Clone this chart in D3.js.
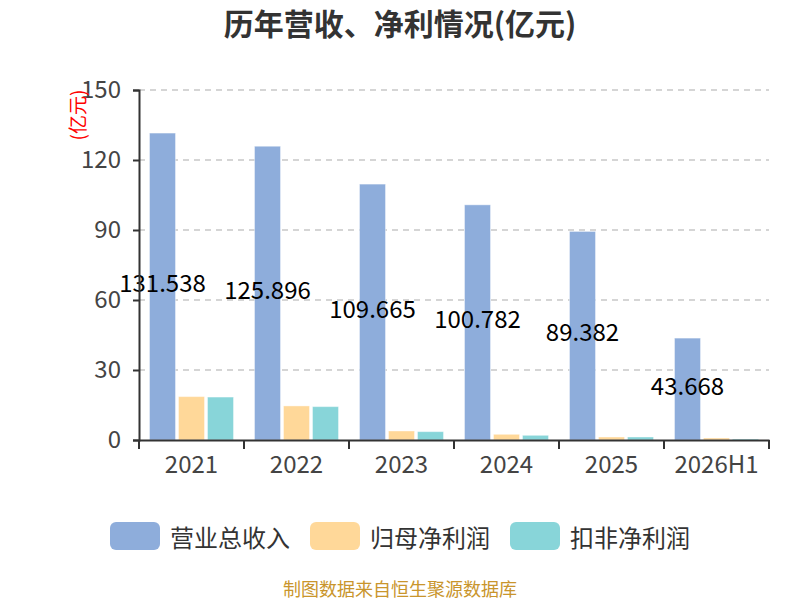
<!DOCTYPE html>
<html>
<head>
<meta charset="utf-8">
<script src="https://cdn.jsdelivr.net/npm/d3@7"></script>
<style>
  body { margin: 0; background: #fff; }
  svg text { font-family: "Noto Sans CJK SC", "Noto Sans", sans-serif; }
</style>
</head>
<body>
<div id="chart"></div>
<script>
// Data
var years = ["2021", "2022", "2023", "2024", "2025", "2026H1"];
var seriesNames = ["营业总收入", "归母净利润", "扣非净利润"];
var revenue = [131.538, 125.896, 109.665, 100.782, 89.382, 43.668];
var netProfit = [18.6, 14.6, 3.86, 2.43, 1.29, 0.86];
var deductedProfit = [18.4, 14.3, 3.57, 2.0, 1.29, 0.43];
var yTicks = [0, 30, 60, 90, 120, 150];

var colors = ["#8eaddb", "#ffd899", "#88d5d9"];

var width = 800,
  height = 600;
var margin = { top: 90, right: 31, bottom: 160, left: 139 };
var innerW = width - margin.left - margin.right,
  innerH = height - margin.top - margin.bottom;

var svg = d3
  .select("#chart")
  .append("svg")
  .attr("width", width)
  .attr("height", height);

// Title
svg
  .append("text")
  .attr("x", width / 2)
  .attr("y", 22)
  .attr("text-anchor", "middle")
  .attr("dominant-baseline", "central")
  .attr("font-size", 30)
  .attr("font-weight", "bold")
  .attr("fill", "#333")
  .text("历年营收、净利情况(亿元)");

var g = svg
  .append("g")
  .attr("transform", "translate(" + margin.left + "," + margin.top + ")");

var x0 = d3.scaleBand().domain(years).range([0, innerW]);
var y = d3.scaleLinear().domain([0, 150]).range([innerH, 0]);

// Grid lines
g.append("g")
  .selectAll("line")
  .data(yTicks.filter((d) => d > 0))
  .join("line")
  .attr("x1", 0)
  .attr("x2", innerW)
  .attr("y1", (d) => y(d))
  .attr("y2", (d) => y(d))
  .attr("stroke", "#c8c8c8")
  .attr("stroke-width", 1.3)
  .attr("stroke-dasharray", "6,5");

// Bars
var table = years.map((yr, i) => ({
  year: yr,
  values: [revenue[i], netProfit[i], deductedProfit[i]],
}));

var barW = 26,
  barGap = 3;
var x1 = d3
  .scaleLinear()
  .domain([0, 2])
  .range([0, 2 * (barW + barGap)]);
var groupOffset = (x0.bandwidth() - (3 * barW + 2 * barGap)) / 2;

var groups = g
  .append("g")
  .selectAll("g")
  .data(table)
  .join("g")
  .attr("transform", (d) => "translate(" + (x0(d.year) + groupOffset) + ",0)");

groups
  .selectAll("rect")
  .data((d) => d.values.map((v, k) => ({ v: v, k: k })))
  .join("rect")
  .attr("x", (d) => x1(d.k))
  .attr("y", (d) => y(d.v))
  .attr("width", barW)
  .attr("height", (d) => innerH - y(d.v))
  .attr("fill", (d) => colors[d.k])
  .attr("stroke", "#ffffff")
  .attr("stroke-opacity", 0.4)
  .attr("stroke-width", 1);

// Value labels on revenue bars
groups
  .append("text")
  .attr("x", barW / 2)
  .attr("y", (d) => (y(d.values[0]) + innerH) / 2 - 5)
  .attr("text-anchor", "middle")
  .attr("dominant-baseline", "central")
  .attr("font-size", 24)
  .attr("fill", "#000")
  .text((d) => d.values[0]);

// Y axis
var yAxis = g
  .append("g")
  .call(d3.axisLeft(y).tickValues(yTicks).tickSize(6).tickPadding(12));
yAxis.select(".domain").attr("stroke", "#333").attr("stroke-width", 2);
yAxis.selectAll(".tick line").attr("stroke", "#333").attr("stroke-width", 2);
yAxis
  .selectAll(".tick text")
  .attr("font-size", 24)
  .attr("fill", "#444")
  .style("font-family", '"Noto Sans CJK SC", sans-serif');

// X axis
var xAxis = g
  .append("g")
  .attr("transform", "translate(0," + innerH + ")")
  .call(d3.axisBottom(x0).tickSize(0).tickPadding(16).tickSizeOuter(0));
xAxis.select(".domain").attr("stroke", "#333").attr("stroke-width", 2);
xAxis
  .selectAll(".tick text")
  .attr("font-size", 24)
  .attr("fill", "#444")
  .style("font-family", '"Noto Sans CJK SC", sans-serif');

// Category boundary ticks
xAxis
  .append("g")
  .selectAll("line")
  .data(years.concat(["end"]))
  .join("line")
  .attr("x1", (d, i) => i * x0.bandwidth())
  .attr("x2", (d, i) => i * x0.bandwidth())
  .attr("y1", 0)
  .attr("y2", 9)
  .attr("stroke", "#333")
  .attr("stroke-width", 2);

// Unit label
svg
  .append("text")
  .attr("transform", "translate(76,115) rotate(-90)")
  .attr("text-anchor", "middle")
  .attr("dominant-baseline", "central")
  .attr("font-size", 19)
  .attr("fill", "#ff0000")
  .text("(亿元)");

// Legend
var legend = svg
  .append("g")
  .selectAll("g")
  .data(seriesNames)
  .join("g")
  .attr("transform", (d, i) => "translate(" + (110 + i * 200) + ",522)");

legend
  .append("rect")
  .attr("width", 50)
  .attr("height", 28)
  .attr("rx", 6)
  .attr("fill", (d, i) => colors[i]);

legend
  .append("text")
  .attr("x", 60)
  .attr("y", 14)
  .attr("dominant-baseline", "central")
  .attr("font-size", 24)
  .attr("fill", "#333")
  .text((d) => d);

// Source note
svg
  .append("text")
  .attr("x", width / 2)
  .attr("y", 588)
  .attr("text-anchor", "middle")
  .attr("dominant-baseline", "central")
  .attr("font-size", 18)
  .attr("fill", "#c9952c")
  .text("制图数据来自恒生聚源数据库");
</script>
</body>
</html>
